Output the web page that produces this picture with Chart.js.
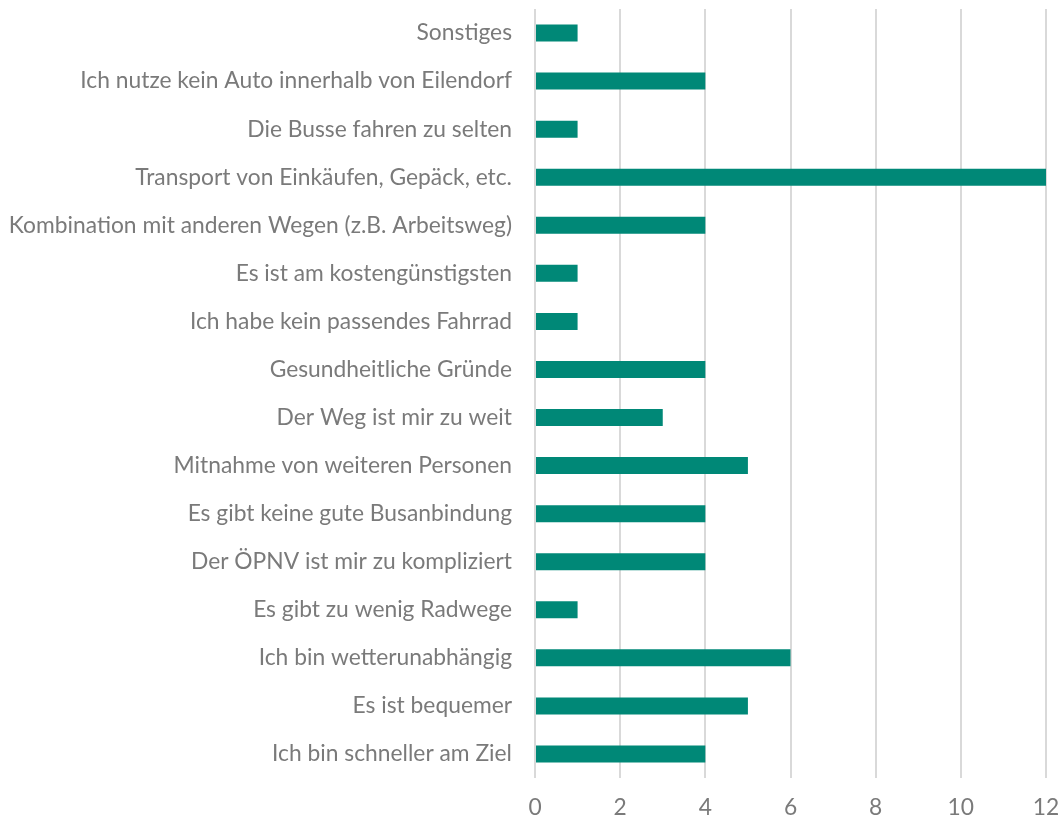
<!DOCTYPE html>
<html>
<head>
<meta charset="utf-8">
<script src="https://cdn.jsdelivr.net/npm/chart.js@4"></script>
<style>
  html, body { margin: 0; padding: 0; background: #fff; }
  #wrap { width: 1060px; height: 821px; }
</style>
</head>
<body>
<div id="wrap"><canvas id="chart" width="1060" height="821"></canvas></div>
<script>
const categories = [
  'Sonstiges',
  'Ich nutze kein Auto innerhalb von Eilendorf',
  'Die Busse fahren zu selten',
  'Transport von Einkäufen, Gepäck, etc.',
  'Kombination mit anderen Wegen (z.B. Arbeitsweg)',
  'Es ist am kostengünstigsten',
  'Ich habe kein passendes Fahrrad',
  'Gesundheitliche Gründe',
  'Der Weg ist mir zu weit',
  'Mitnahme von weiteren Personen',
  'Es gibt keine gute Busanbindung',
  'Der ÖPNV ist mir zu kompliziert',
  'Es gibt zu wenig Radwege',
  'Ich bin wetterunabhängig',
  'Es ist bequemer',
  'Ich bin schneller am Ziel'
];
const counts = [1, 4, 1, 12, 4, 1, 1, 4, 3, 5, 4, 4, 1, 6, 5, 4];
const xTicks = [0, 2, 4, 6, 8, 10, 12];

const font = { family: 'Lato, "Open Sans", sans-serif', size: 22.8 };

function noPad(s) {
  s.paddingTop = 0; s.paddingBottom = 0; s.paddingLeft = 0; s.paddingRight = 0;
}

new Chart(document.getElementById('chart').getContext('2d'), {
  type: 'bar',
  data: {
    labels: categories,
    datasets: [{
      data: counts,
      backgroundColor: '#008877',
      borderWidth: 0,
      categoryPercentage: 1,
      barPercentage: 0.355
    }]
  },
  options: {
    indexAxis: 'y',
    responsive: false,
    animation: false,
    layout: { padding: { top: 9, right: 14, left: 0, bottom: 0 } },
    plugins: { legend: { display: false }, tooltip: { enabled: false } },
    scales: {
      x: {
        min: 0,
        max: 12,
        afterBuildTicks: s => { s.ticks = xTicks.map(v => ({ value: v })); },
        afterFit: s => { s.height = 43; noPad(s); },
        grid: { color: '#d9d9d9', lineWidth: 2, drawTicks: false },
        border: { display: false },
        ticks: { font: font, color: '#7a7a7a', padding: 16 }
      },
      y: {
        afterFit: s => { s.width = 535; noPad(s); },
        grid: { display: false, drawTicks: false },
        border: { display: false },
        ticks: { font: font, color: '#7a7a7a', padding: 23, autoSkip: false }
      }
    }
  }
});
</script>
</body>
</html>
